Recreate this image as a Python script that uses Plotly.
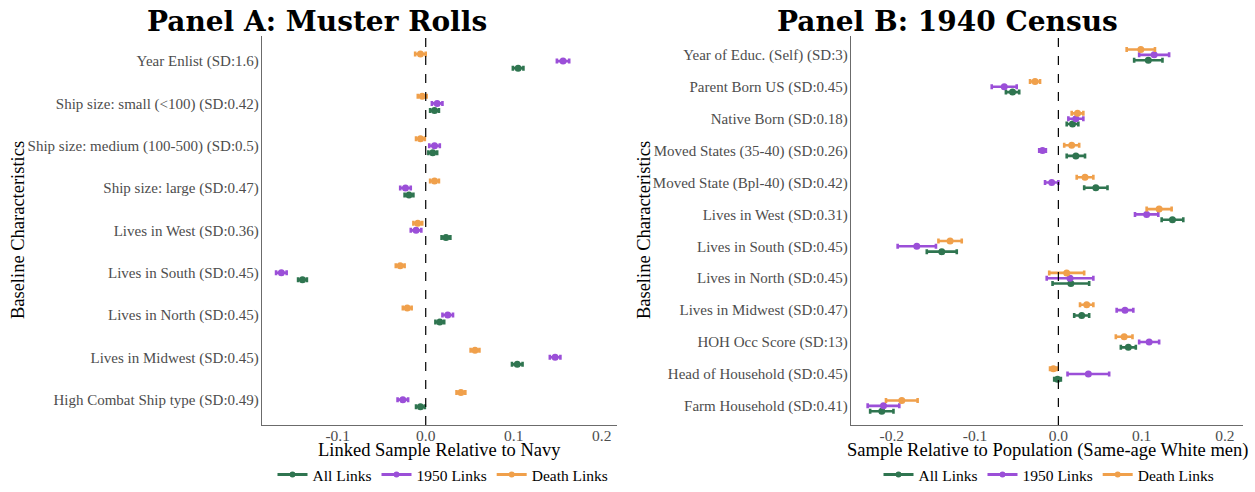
import plotly.graph_objects as go

# ---- Panel A: Muster Rolls (linked sample relative to Navy) ----
cats_a = [
    "Year Enlist (SD:1.6)",
    "Ship size: small (&lt;100) (SD:0.42)",
    "Ship size: medium (100-500) (SD:0.5)",
    "Ship size: large (SD:0.47)",
    "Lives in West (SD:0.36)",
    "Lives in South (SD:0.45)",
    "Lives in North (SD:0.45)",
    "Lives in Midwest (SD:0.45)",
    "High Combat Ship type (SD:0.49)",
]
all_a = [0.105, 0.010, 0.008, -0.019, 0.023, -0.140, 0.016, 0.104, -0.006]
all_a_ci = [0.006, 0.005, 0.005, 0.005, 0.005, 0.005, 0.005, 0.006, 0.005]
l1950_a = [0.156, 0.013, 0.010, -0.023, -0.011, -0.164, 0.025, 0.147, -0.026]
l1950_a_ci = [0.007, 0.006, 0.006, 0.006, 0.006, 0.006, 0.006, 0.006, 0.006]
death_a = [-0.006, -0.004, -0.006, 0.010, -0.009, -0.029, -0.021, 0.056, 0.040]
death_a_ci = [0.006, 0.005, 0.005, 0.005, 0.005, 0.005, 0.005, 0.005, 0.005]

# ---- Panel B: 1940 Census (sample relative to same-age white men) ----
cats_b = [
    "Year of Educ. (Self) (SD:3)",
    "Parent Born US (SD:0.45)",
    "Native Born (SD:0.18)",
    "Moved States (35-40) (SD:0.26)",
    "Moved State (Bpl-40) (SD:0.42)",
    "Lives in West (SD:0.31)",
    "Lives in South (SD:0.45)",
    "Lives in North (SD:0.45)",
    "Lives in Midwest (SD:0.47)",
    "HOH Occ Score (SD:13)",
    "Head of Household (SD:0.45)",
    "Farm Household (SD:0.41)",
]
all_b = [0.108, -0.055, 0.017, 0.021, 0.045, 0.137, -0.140, 0.015, 0.028, 0.084, -0.001, -0.212]
all_b_ci = [0.017, 0.008, 0.007, 0.011, 0.014, 0.013, 0.018, 0.022, 0.009, 0.009, 0.004, 0.014]
l1950_b = [0.115, -0.065, 0.021, -0.019, -0.008, 0.106, -0.170, 0.014, 0.080, 0.109, 0.036, -0.210]
l1950_b_ci = [0.018, 0.015, 0.009, 0.004, 0.008, 0.014, 0.023, 0.028, 0.010, 0.012, 0.025, 0.019]
death_b = [0.099, -0.028, 0.023, 0.016, 0.032, 0.121, -0.130, 0.010, 0.034, 0.079, -0.006, -0.188]
death_b_ci = [0.017, 0.006, 0.007, 0.009, 0.010, 0.015, 0.014, 0.021, 0.008, 0.010, 0.004, 0.019]

x_ticks = [-0.2, -0.1, 0.0, 0.1, 0.2]
x_tick_text = ["-0.2", "-0.1", "0.0", "0.1", "0.2"]

series_names = ["All Links", "1950 Links", "Death Links"]
series_colors = ["#2f7550", "#9b4fd8", "#f0a04b"]
dodge = [-0.1667, 0.0, 0.1667]

W, H = 1255, 492
SERIF = "Liberation Serif, Times New Roman, serif"
TICK_GREY = "#4d4d4d"


def px_x(p):
    return p / W


def px_y(p):
    return 1 - p / H


fig = go.Figure()


def add_panel(cats, series, xaxis, yaxis, legend):
    n = len(cats)
    base = [n - i for i in range(n)]
    for (vals, ci), name, color, off in zip(series, series_names, series_colors, dodge):
        fig.add_trace(go.Scatter(
            x=vals,
            y=[b + off for b in base],
            mode="markers",
            marker=dict(color=color, size=7),
            error_x=dict(type="data", array=ci, color=color, thickness=2.6, width=2.5),
            xaxis=xaxis, yaxis=yaxis,
            showlegend=False, hoverinfo="x+y", name=name,
        ))
    # legend entries drawn as line + dot keys
    for name, color in zip(series_names, series_colors):
        fig.add_trace(go.Scatter(
            x=[None], y=[None], mode="lines+markers", name=name,
            line=dict(color=color, width=3), marker=dict(color=color, size=6),
            xaxis=xaxis, yaxis=yaxis, legend=legend, showlegend=True,
        ))
    return base


base_a = add_panel(cats_a, [(all_a, all_a_ci), (l1950_a, l1950_a_ci), (death_a, death_a_ci)],
                   "x", "y", "legend")
base_b = add_panel(cats_b, [(all_b, all_b_ci), (l1950_b, l1950_b_ci), (death_b, death_b_ci)],
                   "x2", "y2", "legend2")

y_dom = [px_y(428.5), px_y(36)]
axis_line = dict(showline=True, linecolor="#6b6b6b", linewidth=1.3, mirror=False,
                 showgrid=False, zeroline=False, ticks="")

fig.update_layout(
    width=W, height=H,
    margin=dict(l=0, r=0, t=0, b=0),
    paper_bgcolor="white", plot_bgcolor="white",
    font=dict(family=SERIF, color="black"),
    xaxis=dict(domain=[px_x(262), px_x(617)], range=[-0.186, 0.2173], anchor="y",
               tickvals=x_ticks, ticktext=x_tick_text, ticklabelstandoff=-4,
               tickfont=dict(size=15.5, color=TICK_GREY), **axis_line),
    yaxis=dict(domain=y_dom, range=[0.4, len(cats_a) + 0.6], anchor="x",
               tickvals=base_a, ticktext=cats_a, ticklabelstandoff=-1,
               tickfont=dict(size=15, color=TICK_GREY), **axis_line),
    xaxis2=dict(domain=[px_x(851), px_x(1243)], range=[-0.249, 0.2217], anchor="y2",
                tickvals=x_ticks, ticktext=x_tick_text, ticklabelstandoff=-4,
                tickfont=dict(size=15.5, color=TICK_GREY), **axis_line),
    yaxis2=dict(domain=y_dom, range=[0.4, len(cats_b) + 0.6], anchor="x2",
                tickvals=base_b, ticktext=cats_b, ticklabelstandoff=-1,
                tickfont=dict(size=15, color=TICK_GREY), **axis_line),
    legend=dict(orientation="h", x=px_x(443), y=px_y(479), xanchor="center", yanchor="middle",
                font=dict(size=15.5, color="black"), itemwidth=30, bgcolor="rgba(0,0,0,0)"),
    legend2=dict(orientation="h", x=px_x(1049), y=px_y(479), xanchor="center", yanchor="middle",
                 font=dict(size=15.5, color="black"), itemwidth=30, bgcolor="rgba(0,0,0,0)"),
)

# dashed reference line at zero
for xr, yr in [("x", "y domain"), ("x2", "y2 domain")]:
    fig.add_shape(type="line", xref=xr, yref=yr, x0=0, x1=0, y0=0, y1=1,
                  line=dict(color="black", width=1.2, dash="dash"))

TITLE_FONT = dict(family="DejaVu Serif, serif", size=28, color="black")
AXIS_TITLE_FONT = dict(family=SERIF, size=18.5, color="black")

annotations = [
    dict(text="<b>Panel A: Muster Rolls</b>", x=px_x(317), y=px_y(22), font=TITLE_FONT),
    dict(text="<b>Panel B: 1940 Census</b>", x=px_x(948), y=px_y(22), font=TITLE_FONT),
    dict(text="Linked Sample Relative to Navy", x=px_x(439.5), y=px_y(454), font=AXIS_TITLE_FONT),
    dict(text="Sample Relative to Population (Same-age White men)", x=px_x(1047), y=px_y(454),
         font=AXIS_TITLE_FONT),
    dict(text="Baseline Characteristics", x=px_x(18), y=px_y(232), textangle=-90, font=AXIS_TITLE_FONT),
    dict(text="Baseline Characteristics", x=px_x(644), y=px_y(232), textangle=-90, font=AXIS_TITLE_FONT),
]
for a in annotations:
    fig.add_annotation(xref="paper", yref="paper", showarrow=False,
                       xanchor="center", yanchor="middle", **a)

fig.write_html("out.html")
